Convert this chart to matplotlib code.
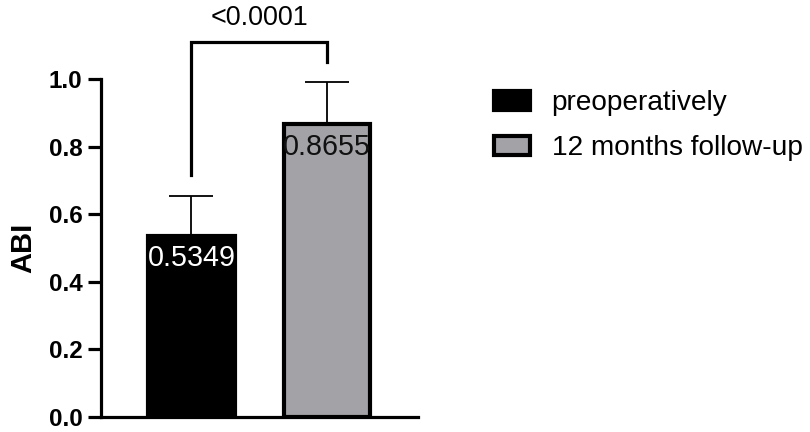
import matplotlib
matplotlib.use("Agg")
import matplotlib.pyplot as plt
from matplotlib.patches import Patch

plt.rcParams['font.family'] = ['Liberation Sans', 'DejaVu Sans']

groups = ["preoperatively", "12 months follow-up"]
means = [0.5349, 0.8655]
errors = [0.119, 0.126]
colors = ["#000000", "#a3a2a7"]
label_colors = ["white", "#111111"]
p_text = "<0.0001"
yticks = [0.0, 0.2, 0.4, 0.6, 0.8, 1.0]


def main():
    fig = plt.figure(figsize=(8.1, 4.32), dpi=100)
    ax = fig.add_axes([101 / 810, 1 - 417 / 432, 317 / 810, 338 / 432])

    x = list(range(len(means)))
    ax.bar(x, means, width=0.635, color=colors, edgecolor="black",
           linewidth=3, zorder=2)
    ax.errorbar(x, means, yerr=[[0, 0], errors], fmt="none", ecolor="black",
                elinewidth=1.3, capsize=16, capthick=1.3, clip_on=False, zorder=1)

    for xi, m, c in zip(x, means, label_colors):
        ax.annotate(f"{m:.4f}", (xi, m), xytext=(0, -16), textcoords="offset points",
                    ha="center", va="center", fontsize=20.7, color=c, zorder=3)

    # significance bracket
    top = 1.109
    ax.plot([0, 0, 1, 1], [0.716, top, top, 1.05], color="black", lw=2.3,
            clip_on=False, solid_joinstyle="miter")
    ax.text(0.5, 1.18, p_text, ha="center", va="center", fontsize=19.4)

    ax.set_xlim(-0.668, 1.672)
    ax.set_ylim(0, 1.0)
    ax.set_yticks(yticks)
    ax.set_yticklabels([f"{t:.1f}" for t in yticks], fontsize=17.5, fontweight="bold")
    ax.set_xticks([])
    ax.set_ylabel("ABI", fontsize=21, fontweight="bold", labelpad=8)
    for s in ["top", "right"]:
        ax.spines[s].set_visible(False)
    for s in ["left", "bottom"]:
        ax.spines[s].set_linewidth(2.3)
    ax.tick_params(axis="y", length=9.5, width=2.3, pad=4)

    handles = [Patch(facecolor=c, edgecolor="black", linewidth=3) for c in colors]
    fig.legend(handles, groups, loc="upper left", bbox_to_anchor=(494 / 810, 1 - 90 / 432),
               frameon=False, fontsize=20.2, handlelength=1.3, handleheight=0.65,
               handletextpad=0.75, labelspacing=0.68, borderpad=0, borderaxespad=0)

    fig.savefig("out.png", dpi=100)


if __name__ == "__main__":
    main()
